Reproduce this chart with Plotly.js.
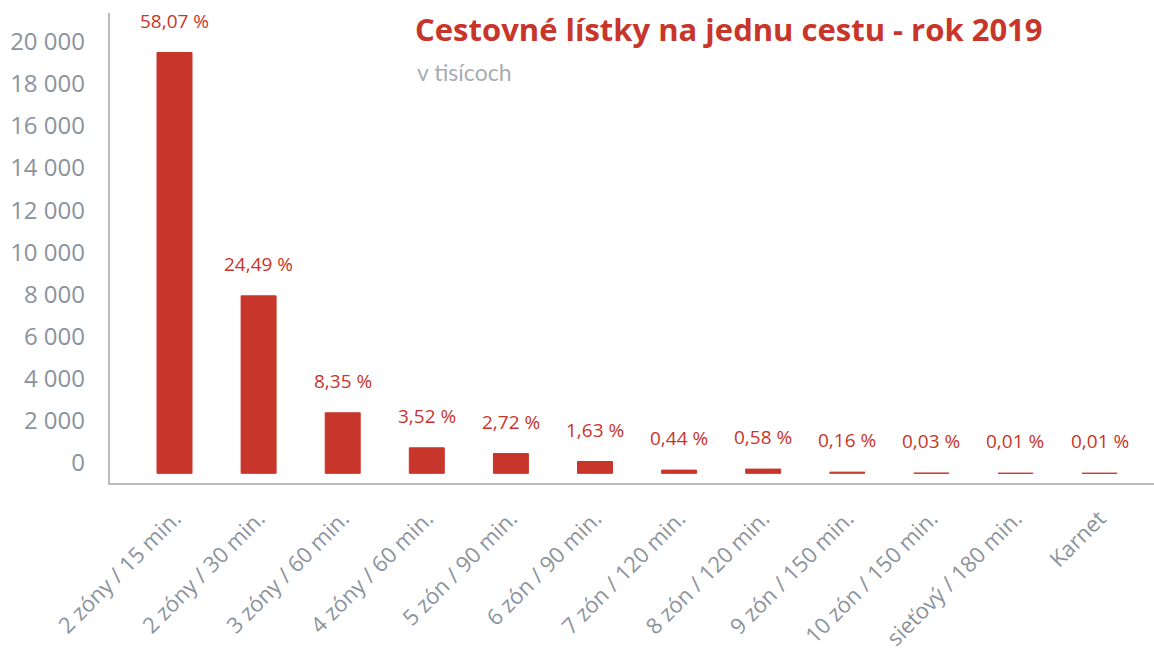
<!DOCTYPE html>
<html>
<head>
<meta charset="utf-8">
<script src="https://cdn.plot.ly/plotly-3.0.1.min.js"></script>
<style>
html,body{margin:0;padding:0;background:#fff;}
#chart{width:1154px;height:651px;}
</style>
</head>
<body>
<div id="chart"></div>
<script>
// Data (values in thousands)
const categories = [
  "2 zóny / 15 min.", "2 zóny / 30 min.", "3 zóny / 60 min.", "4 zóny / 60 min.",
  "5 zón / 90 min.", "6 zón / 90 min.", "7 zón / 120 min.", "8 zón / 120 min.",
  "9 zón / 150 min.", "10 zón / 150 min.", "sieťový / 180 min.", "Karnet"
];
const tickets = [20000, 8435, 2876, 1212, 937, 561, 152, 200, 55, 10, 3.4, 3.4];
const shareLabels = ["58,07 %", "24,49 %", "8,35 %", "3,52 %", "2,72 %", "1,63 %",
  "0,44 %", "0,58 %", "0,16 %", "0,03 %", "0,01 %", "0,01 %"];
const yTickVals = [0, 2000, 4000, 6000, 8000, 10000, 12000, 14000, 16000, 18000, 20000];

const RED = "#c8352a";
const GRAY = "#8b939c";
const FONT = "Open Sans, Lato, sans-serif";

const Y0 = -461, Y1 = 21878, LABEL_SHIFT = 290;

const trace = {
  type: "bar",
  x: categories,
  y: tickets,
  marker: {color: RED, line: {color: RED, width: 1}},
  hoverinfo: "x+y"
};

// invisible helper trace to attach the tick-label axis
const helper = {
  type: "scatter", x: [categories[0]], y: [0], yaxis: "y2",
  mode: "markers", marker: {opacity: 0}, hoverinfo: "skip"
};

const annotations = categories.map((c, i) => ({
  x: c, y: tickets[i], xref: "x", yref: "y",
  text: shareLabels[i], showarrow: false,
  xanchor: "center", yanchor: "bottom", yshift: 17,
  font: {family: FONT, size: 19, color: RED}
}));

annotations.push({
  xref: "paper", yref: "paper", x: (415 - 110) / 1044, y: 1 - (72 - 13) / 470,
  xanchor: "left", yanchor: "middle", showarrow: false,
  text: "v tisícoch",
  font: {family: "Lato, Open Sans, sans-serif", size: 23, color: "#a7acb2"}
});

const layout = {
  width: 1154, height: 651,
  margin: {l: 110, r: 0, t: 13, b: 168},
  paper_bgcolor: "#fff", plot_bgcolor: "#fff",
  separators: ", ",
  showlegend: false,
  bargap: 0.584,
  title: {
    text: "<b>Cestovné lístky na jednu cestu - rok 2019</b>",
    xref: "container", yref: "container",
    x: 415 / 1154, xanchor: "left",
    y: 1 - 30 / 651, yanchor: "middle",
    font: {family: "Open Sans, sans-serif", size: 31, color: RED}
  },
  xaxis: {
    type: "category",
    range: [-0.767, 11.647],
    showgrid: false, zeroline: false,
    showline: true, linecolor: "#b9bdc3", linewidth: 2,
    ticks: "", tickangle: -45,
    ticklabelstandoff: 12,
    tickfont: {family: FONT, size: 22, color: GRAY}
  },
  yaxis: {
    range: [Y0, Y1],
    tickvals: yTickVals,
    showticklabels: false,
    showgrid: false, zeroline: false,
    showline: true, linecolor: "#b9bdc3", linewidth: 2,
    ticks: ""
  },
  yaxis2: {
    overlaying: "y", side: "left",
    range: [Y0 + LABEL_SHIFT, Y1 + LABEL_SHIFT],
    tickvals: yTickVals,
    tickformat: ",d",
    showgrid: false, zeroline: false, showline: false,
    ticks: "", ticklabelposition: "outside top",
    ticklabelstandoff: 24,
    tickfont: {family: FONT, size: 24, color: GRAY}
  },
  annotations: annotations
};

Plotly.newPlot("chart", [trace, helper], layout, {displayModeBar: false, staticPlot: true});
</script>
</body>
</html>
